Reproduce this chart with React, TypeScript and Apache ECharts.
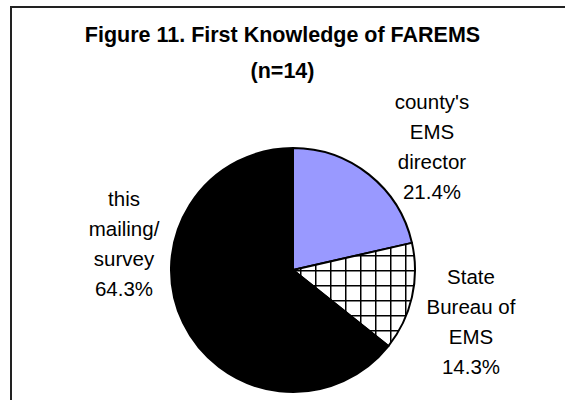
import React, { useEffect, useRef } from "react";
import * as echarts from "echarts";

const categories = ["county's\nEMS\ndirector", "State\nBureau of\nEMS", "this\nmailing/\nsurvey"];
const counts = [3, 2, 9];
const titleLines = ["Figure 11. First Knowledge of FAREMS", "(n=14)"];

function makeHatch(): HTMLCanvasElement {
  const c = document.createElement("canvas");
  const s = 15;
  c.width = s;
  c.height = s;
  const ctx = c.getContext("2d")!;
  ctx.fillStyle = "#ffffff";
  ctx.fillRect(0, 0, s, s);
  ctx.fillStyle = "#000000";
  ctx.fillRect(0, 0, s, 1.5);
  ctx.fillRect(0, 0, 1.5, s);
  return c;
}

export default function App() {
  const ref = useRef<HTMLDivElement>(null);
  useEffect(() => {
    if (!ref.current) return;
    const chart = echarts.init(ref.current, undefined, { renderer: "svg" });
    const hatch = makeHatch();
    const fills: any[] = ["#9999FF", { image: hatch, repeat: "repeat" }, "#000000"];
    const labelPos = [
      [432, 146],
      [471, 321],
      [124, 243],
    ];
    chart.setOption({
      animation: false,
      backgroundColor: "#ffffff",
      title: {
        text: titleLines.join("\n"),
        left: "center",
        top: 17,
        padding: 0,
        textStyle: {
          fontFamily: "Liberation Sans, Arial, sans-serif",
          fontSize: 21.5,
          fontWeight: "bold",
          color: "#000",
          lineHeight: 36,
        },
      },
      graphic: [
        {
          type: "rect",
          shape: { x: 11, y: 7, width: 620, height: 460 },
          style: { fill: "none", stroke: "#222", lineWidth: 2 },
          z: 100,
        },
      ],
      series: [
        {
          type: "pie",
          center: [293, 270],
          radius: 122,
          startAngle: 90,
          clockwise: true,
          data: categories.map((n, i) => ({
            name: n,
            value: counts[i],
            itemStyle: { color: fills[i] },
          })),
          itemStyle: { borderColor: "#000", borderWidth: 2 },
          emphasis: { disabled: true },
          labelLine: { show: false },
          label: {
            show: true,
            formatter: (p: any) => `${p.name}\n${p.percent.toFixed(1)}%`,
            fontFamily: "Liberation Sans, Arial, sans-serif",
            fontSize: 20.5,
            lineHeight: 30,
            color: "#000",
            align: "center",
          },
          labelLayout: (p: any) => {
            const pos = labelPos[p.dataIndex];
            return { x: pos[0], y: pos[1], align: "center", verticalAlign: "middle" };
          },
        },
      ],
    });
    return () => chart.dispose();
  }, []);
  return (
    <div
      ref={ref}
      style={{ position: "fixed", left: 0, top: 0, width: 565, height: 400 }}
    />
  );
}
